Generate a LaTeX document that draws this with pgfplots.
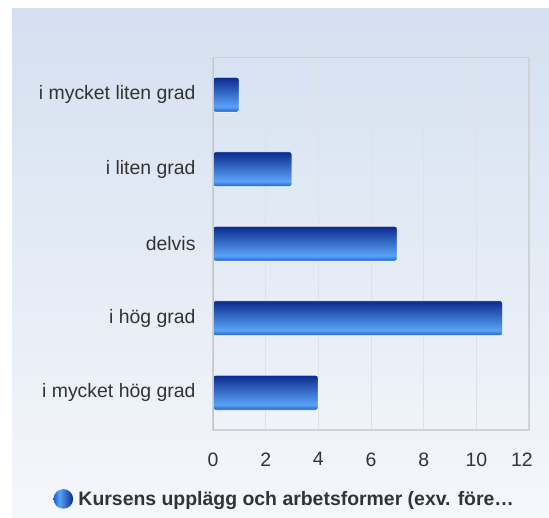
\documentclass[border=0pt]{standalone}
\usepackage{pgfplots}
\pgfplotsset{compat=1.18}
\usepackage{fontspec}
\setmainfont{Liberation Sans}

\definecolor{panelTop}{RGB}{212,224,240}
\definecolor{panelBot}{RGB}{245,247,251}
\definecolor{frameGray}{RGB}{208,210,214}
\definecolor{gridGray}{RGB}{222,226,232}
\definecolor{axisGray}{RGB}{196,198,202}
\definecolor{txt}{RGB}{51,51,51}
\definecolor{barNavy}{RGB}{10,42,142}
\definecolor{barLight}{RGB}{90,163,247}
\definecolor{barBottom}{RGB}{28,95,200}

% bar body: navy on top, light band low, medium blue at bottom
\pgfdeclareverticalshading{barshade}{100bp}{
  color(0bp)=(barBottom); color(25bp)=(barBottom);
  color(33bp)=(barLight); color(75bp)=(barNavy); color(100bp)=(barNavy)}
\pgfdeclarehorizontalshading{dotshade}{100bp}{
  color(0bp)=(barBottom); color(25bp)=(barBottom);
  color(40bp)=(barLight); color(75bp)=(barNavy); color(100bp)=(barNavy)}

\begin{document}
\begin{tikzpicture}
\fill[white] (0,0) rectangle (549bp,518bp);
\shade[top color=panelTop, bottom color=panelBot] (12bp,0) rectangle (549bp,509bp);

\begin{axis}[
    at={(213bp,88bp)}, anchor=south west,
    scale only axis,
    width=316bp, height=372.5bp,
    xbar,
    xmin=0, xmax=12,
    ymin=-0.5, ymax=4.5,
    xtick={0,2,4,6,8,10,12},
    xticklabels={0,2,4,6,8,10,\makebox[7.6bp][r]{12}},
    ytick={0,1,2,3,4},
    yticklabels={i mycket hög grad, i hög grad, delvis, i liten grad, i mycket liten grad},
    major tick length=0,
    xmajorgrids=true,
    grid style={draw=gridGray, line width=1bp},
    axis line style={draw=frameGray, line width=1.5bp},
    /pgf/number format/assume math mode=true,
    tick label style={font=\fontsize{19.5}{23}\selectfont, text=txt},
    xticklabel style={yshift=-19bp},
    yticklabel style={xshift=-14bp},
    bar width=35bp,
    bar shift=0pt,
    every axis plot/.append style={shading=barshade, draw=white,
        line width=0.7bp, rounded corners=2.5bp},
    legend style={at={(axis description cs:0.227,-0.185)}, anchor=center,
        draw=none, fill=none, inner sep=0pt,
        font=\fontsize{19.5}{23}\selectfont\bfseries, text=txt},
    legend image code/.code={
        \shade[shading=dotshade, draw=none] (3bp,0bp) circle (9.8bp);
        \path (15.8bp,0bp);},
]

\addplot[] coordinates {(11,1)};
\addplot[forget plot] coordinates {(1,4)};
\addplot[forget plot] coordinates {(3,3)};
\addplot[forget plot] coordinates {(7,2)};
\addplot[forget plot] coordinates {(4,0)};

\legend{Kursens upplägg och arbetsformer (exv. före…}

\draw[axisGray, line width=2bp] (axis cs:0,-0.5) -- (axis cs:0,4.5);
\end{axis}
\end{tikzpicture}
\end{document}
